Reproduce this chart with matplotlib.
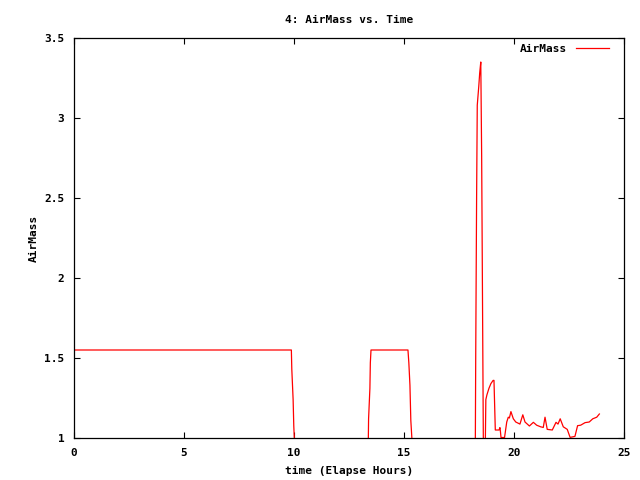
import matplotlib
matplotlib.use("Agg")
import matplotlib.pyplot as plt

# elapsed time (hours) and airmass; 0.9 = below horizon (clipped)
time_h = [0.0, 9.88, 9.90, 9.96, 9.99, 10.03,
          13.37, 13.39, 13.45, 13.47, 13.50, 15.18, 15.22, 15.27, 15.31, 15.40,
          18.24, 18.26, 18.30, 18.33, 18.40, 18.44, 18.49, 18.53, 18.58, 18.61,
          18.69, 18.72, 18.77, 18.86, 18.95, 19.05, 19.09, 19.15, 19.32, 19.36,
          19.38, 19.41, 19.57, 19.67, 19.74, 19.79, 19.86, 19.97, 20.08, 20.27,
          20.40, 20.50, 20.70, 20.88, 21.03, 21.21, 21.33, 21.41, 21.51, 21.74,
          21.91, 22.00, 22.10, 22.24, 22.42, 22.55, 22.77, 22.89, 23.03, 23.23,
          23.42, 23.58, 23.76, 23.88]
airmass = [1.55, 1.55, 1.43, 1.24, 1.075, 0.95,
           0.9, 1.12, 1.31, 1.47, 1.55, 1.55, 1.47, 1.33, 1.11, 0.9,
           0.9, 1.51, 2.5, 3.08, 3.2, 3.28, 3.35, 2.76, 1.59, 0.9,
           0.9, 1.24, 1.27, 1.31, 1.34, 1.36, 1.36, 1.05, 1.05, 1.065,
           1.045, 1.003, 1.003, 1.10, 1.13, 1.125, 1.165, 1.12, 1.10, 1.087,
           1.145, 1.10, 1.075, 1.098, 1.08, 1.07, 1.066, 1.13, 1.054, 1.05,
           1.098, 1.087, 1.12, 1.07, 1.054, 1.004, 1.01, 1.077, 1.08, 1.096,
           1.10, 1.12, 1.13, 1.15]

x_ticks = [0, 5, 10, 15, 20, 25]
y_ticks = [1, 1.5, 2, 2.5, 3, 3.5]
y_tick_labels = ["1", "1.5", "2", "2.5", "3", "3.5"]

plt.rcParams["font.family"] = "DejaVu Sans Mono"
plt.rcParams["font.size"] = 8
plt.rcParams["font.weight"] = "bold"

fig = plt.figure(figsize=(6.4, 4.8), dpi=100)
ax = fig.add_axes([74 / 640, 42 / 480, 550 / 640, 400 / 480])

ax.plot(time_h, airmass, color="red", linewidth=0.9, label="AirMass")

ax.set_xlim(0, 25)
ax.set_ylim(1, 3.5)
ax.set_xticks(x_ticks)
ax.set_yticks(y_ticks)
ax.set_yticklabels(y_tick_labels)
ax.tick_params(direction="in", length=4, width=0.8, top=True, right=True, pad=7)
for s in ax.spines.values():
    s.set_linewidth(0.9)

ax.set_title("4: AirMass vs. Time", fontsize=8, fontweight="bold", pad=11)
ax.set_xlabel("time (Elapse Hours)", fontweight="bold", labelpad=6)
ax.set_ylabel("AirMass", fontweight="bold", labelpad=4)

ax.legend(loc="upper right", bbox_to_anchor=(0.98, 0.996), frameon=False,
          markerfirst=False, handlelength=2.9, borderaxespad=0,
          prop={"weight": "bold", "size": 8})

fig.savefig("out.png", dpi=100)
